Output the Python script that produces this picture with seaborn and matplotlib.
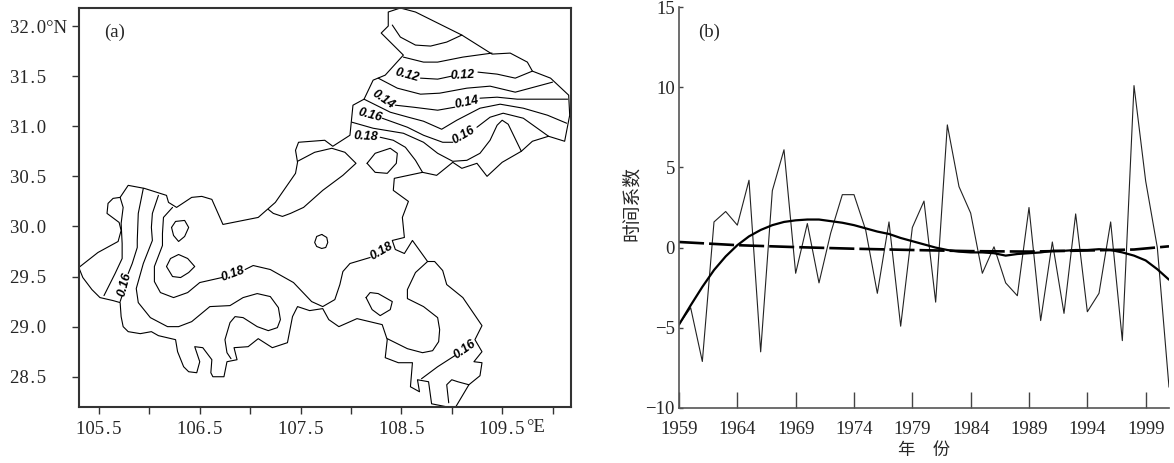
import matplotlib
matplotlib.use("Agg")
import matplotlib.pyplot as plt
import seaborn as sbn

sbn.set_style("white")
plt.rcParams["font.family"] = ["Liberation Serif", "Noto Sans CJK SC", "DejaVu Sans"]

# (a) province outline, lon/lat
outline_lon = [105.30,105.49,105.69,105.72,105.70,105.58,105.59,105.64,105.71,105.79,105.95,106.17,106.19,106.27,106.42,106.52,106.62,106.73,107.08,107.17,107.25,107.45,107.47,107.45,107.48,107.74,107.82,107.99,108.02,108.13,108.22,108.34,108.52,108.30,108.37,108.37,108.49,108.64,109.10,109.40,109.58,109.75,109.80,109.98,110.16,110.17,110.12,109.96,109.80,109.69,109.50,109.35,109.25,109.10,109.01,108.85,108.71,108.43,108.42,108.57,108.51,108.53,108.41,108.44,108.53,108.61,108.76,108.83,108.91,108.95,109.11,109.30,109.23,109.30,109.22,109.30,109.28,109.17,109.04,108.95,108.80,108.77,108.66,108.68,108.59,108.61,108.47,108.34,108.36,108.31,108.06,107.88,107.78,107.72,107.59,107.47,107.42,107.37,107.22,107.08,106.98,106.84,106.87,106.77,106.74,106.63,106.61,106.62,106.53,106.45,106.50,106.47,106.39,106.34,106.28,106.26,106.09,106.02,105.91,105.79,105.74,105.72,105.71,105.64,105.51,105.43,105.34,105.30]
outline_lat = [29.59,29.74,29.85,29.96,30.04,30.13,30.23,30.28,30.29,30.41,30.38,30.31,30.24,30.19,30.29,30.30,30.27,30.02,30.09,30.17,30.24,30.53,30.64,30.76,30.84,30.86,30.80,30.91,31.21,31.27,31.46,31.51,31.71,31.93,32.00,32.14,32.18,32.14,31.91,31.72,31.73,31.64,31.55,31.48,31.31,31.11,30.85,30.90,30.85,30.75,30.64,30.50,30.63,30.58,30.64,30.51,30.54,30.48,30.36,30.25,30.09,29.89,29.86,29.77,29.73,29.86,29.65,29.65,29.56,29.42,29.29,29.01,28.87,28.75,28.65,28.64,28.51,28.42,28.20,28.20,28.23,28.45,28.47,28.35,28.40,28.64,28.64,28.69,28.87,29.02,29.08,29.00,29.07,29.18,29.16,29.20,29.10,28.84,28.79,28.88,28.80,28.79,28.67,28.65,28.50,28.50,28.54,28.67,28.79,28.80,28.65,28.54,28.55,28.60,28.75,28.87,28.91,28.95,28.93,28.95,29.00,29.10,29.24,29.26,29.29,29.37,29.49,29.59]

# contours, one pair of lists each
c1_lon = [105.71,105.74,105.72,105.73,105.73,105.66,105.59,105.55]
c1_lat = [30.29,30.19,30.03,29.83,29.68,29.53,29.39,29.31]
c2a_lon = [105.94,105.89,105.88,105.88,105.83,105.79]
c2a_lat = [30.38,30.13,29.86,29.79,29.63,29.53]
c2b_lon = [105.73,105.71]
c2b_lat = [29.31,29.25]
c3_lon = [106.09,106.03,106.02,106.03,105.94,105.87,105.89,106.01,106.18,106.29,106.42,106.60,106.80,106.93,107.07,107.20,107.28,107.30,107.27,107.18,107.07,106.93,106.85,106.80,106.75,106.77,106.81]
c3_lat = [30.31,30.13,29.99,29.86,29.63,29.38,29.24,29.09,29.00,29.00,29.05,29.20,29.21,29.29,29.33,29.30,29.19,29.07,28.99,28.96,29.00,29.09,29.10,29.04,28.87,28.74,28.68]
c4a_lon = [106.23,106.14,106.13,106.13,106.05,106.05,106.11,106.24,106.38,106.50,106.72]
c4a_lat = [30.19,30.09,29.93,29.81,29.60,29.45,29.34,29.29,29.34,29.44,29.49]
c4b_lon = [106.95,107.03,107.20,107.43,107.61,107.72,107.84,107.89,107.92,107.99,108.19]
c4b_lat = [29.57,29.61,29.57,29.44,29.25,29.20,29.27,29.42,29.55,29.63,29.69]
c5_lon = [108.76,108.64,108.56,108.56,108.72,108.86,108.88,108.87,108.81,108.71,108.56,108.36]
c5_lat = [29.65,29.54,29.37,29.28,29.20,29.09,28.97,28.85,28.76,28.74,28.78,28.88]
c6_lon = [108.70,108.86,109.03]
c6_lat = [28.48,28.60,28.71]
c7_lon = [108.97,108.95,109.00,109.06,109.17]
c7_lat = [28.24,28.42,28.47,28.45,28.42]
l1_lon = [106.22,106.26,106.35,106.39,106.35,106.29,106.24,106.22]
l1_lat = [29.99,30.05,30.06,29.99,29.90,29.85,29.91,29.99]
l2_lon = [106.17,106.21,106.29,106.38,106.45,106.39,106.31,106.23,106.17]
l2_lat = [29.60,29.68,29.72,29.68,29.60,29.54,29.49,29.50,29.60]
l3_lon = [107.71,107.76,107.77,107.75,107.71,107.66,107.64,107.66,107.71]
l3_lat = [29.92,29.89,29.84,29.79,29.78,29.80,29.84,29.90,29.92]
l4_lon = [108.15,108.19,108.27,108.41,108.39,108.29,108.21,108.15]
l4_lat = [29.29,29.34,29.33,29.25,29.17,29.11,29.17,29.29]
l5_lon = [108.16,108.24,108.39,108.46,108.45,108.36,108.24,108.16]
l5_lat = [30.63,30.73,30.78,30.73,30.63,30.53,30.54,30.63]
nw_lon = [107.47,107.64,107.81,107.94,108.05,107.92,107.72,107.53,107.40,107.32,107.23,107.18]
nw_lat = [30.65,30.74,30.78,30.74,30.63,30.51,30.36,30.19,30.13,30.10,30.13,30.17]
n1_lon = [108.41,108.49,108.64,108.79,108.95,109.10]
n1_lat = [32.01,31.89,31.81,31.80,31.84,31.91]
n2_lon = [108.52,108.72,108.86,109.11,109.40]
n2_lat = [31.69,31.64,31.64,31.69,31.73]
n3a_lon = [108.69,108.86,109.00]
n3a_lat = [31.48,31.47,31.50]
n3b_lon = [109.26,109.45,109.63,109.80]
n3b_lat = [31.54,31.52,31.48,31.55]
n4_lon = [108.27,108.46,108.69,108.88,109.15,109.38,109.63,110.00]
n4_lat = [31.48,31.38,31.32,31.33,31.38,31.40,31.34,31.44]
n5a_lon = [108.44,108.62,108.86,109.03]
n5a_lat = [31.21,31.19,31.16,31.19]
n5b_lon = [109.28,109.45,109.65,110.15]
n5b_lat = [31.28,31.29,31.27,31.27]
n6_lon = [108.13,108.39,108.57,108.72,108.90,109.05,109.28,109.48,109.71,109.95,110.14]
n6_lat = [31.27,31.14,31.09,31.05,30.97,31.06,31.18,31.22,31.18,31.11,31.03]
n7a_lon = [108.31,108.56,108.72,108.91,109.01]
n7a_lat = [31.08,30.99,30.91,30.84,30.84]
n7b_lon = [109.25,109.38,109.51,109.71,109.96]
n7b_lat = [30.99,31.09,31.13,31.08,30.90]
n8_lon = [108.29,108.42,108.54,108.64,108.71]
n8_lat = [30.89,30.86,30.79,30.66,30.54]
n9_lon = [108.01,108.22,108.52,108.72,108.86,109.01,109.15,109.28,109.38,109.45,109.50,109.56,109.69]
n9_lat = [31.04,30.98,30.93,30.84,30.73,30.65,30.66,30.73,30.86,31.01,31.06,31.02,30.75]

label_txt = ["0.12","0.12","0.14","0.14","0.16","0.16","0.18","0.18","0.18","0.16","0.16"]
label_lon = [108.56,109.11,108.32,109.15,108.19,109.12,108.15,106.83,108.30,109.13,105.76]
label_lat = [31.51,31.51,31.27,31.24,31.11,30.91,30.90,29.53,29.75,28.77,29.42]
label_rot = [-15,3,-35,12,-15,30,-3,20,30,35,75]

lon_ticks = [105.5,106,106.5,107,107.5,108,108.5,109,109.5,110]
lon_labels = ["105\u200a.\u200a5","","106\u200a.\u200a5","","107\u200a.\u200a5","","108\u200a.\u200a5","","109\u200a.\u200a5",""]
lat_ticks = [32,31.5,31,30.5,30,29.5,29,28.5]
lat_labels = ["32\u200a.\u200a0\u00b0N","31\u200a.\u200a5","31\u200a.\u200a0","30\u200a.\u200a5","30\u200a.\u200a0","29\u200a.\u200a5","29\u200a.\u200a0","28\u200a.\u200a5"]

# (b) time coefficient
years = list(range(1959,2002))
coef = [-4.8,-3.75,-7.1,1.6,2.25,1.4,4.2,-6.5,3.55,6.1,-1.6,1.5,-2.2,0.9,3.3,3.3,1.1,-2.85,1.6,-4.9,1.25,2.9,-3.4,7.65,3.8,2.15,-1.6,0.05,-2.2,-3.0,2.5,-4.55,0.35,-4.1,2.1,-4.0,-2.85,1.6,-5.8,10.1,4.15,0.0,-8.7]
smooth = [-4.8,-3.6,-2.45,-1.4,-0.55,0.15,0.7,1.1,1.4,1.6,1.7,1.75,1.75,1.65,1.55,1.4,1.2,1.0,0.85,0.6,0.4,0.2,0.0,-0.15,-0.25,-0.3,-0.3,-0.35,-0.5,-0.4,-0.35,-0.3,-0.2,-0.2,-0.15,-0.15,-0.1,-0.15,-0.3,-0.5,-0.8,-1.35,-2.0]
trend_yr = [1959,1964,1969,1974,1979,1984,1989,1994,1998,2001]
trend = [0.35,0.15,0.03,-0.07,-0.15,-0.22,-0.25,-0.18,-0.12,0.08]
yr_ticks = [1959,1964,1969,1974,1979,1984,1989,1994,1999]
coef_ticks = [15,10,5,0,-5,-10]
coef_labels = ["15","10","5","0","\u22125","\u221210"]

W,H = 1174,463
fig = plt.figure(figsize=(W/100,H/100),dpi=100)
ax1 = fig.add_axes([79/W,(H-407)/H,492/W,399/H])
ax2 = fig.add_axes([679/W,(H-408)/H,490/W,401/H])

lines = [(outline_lon,outline_lat),(c1_lon,c1_lat),(c2a_lon,c2a_lat),(c2b_lon,c2b_lat),(c3_lon,c3_lat),
         (c4a_lon,c4a_lat),(c4b_lon,c4b_lat),(c5_lon,c5_lat),(c6_lon,c6_lat),(c7_lon,c7_lat),
         (l1_lon,l1_lat),(l2_lon,l2_lat),(l3_lon,l3_lat),(l4_lon,l4_lat),(l5_lon,l5_lat),(nw_lon,nw_lat),
         (n1_lon,n1_lat),(n2_lon,n2_lat),(n3a_lon,n3a_lat),(n3b_lon,n3b_lat),(n4_lon,n4_lat),(n5a_lon,n5a_lat),
         (n5b_lon,n5b_lat),(n6_lon,n6_lat),(n7a_lon,n7a_lat),(n7b_lon,n7b_lat),(n8_lon,n8_lat),(n9_lon,n9_lat)]
for lon,lat in lines:
    sbn.lineplot(x=lon,y=lat,sort=False,estimator=None,color="black",lw=0.8,ax=ax1)
for t,x,y,r in zip(label_txt,label_lon,label_lat,label_rot):
    ax1.text(x,y,t,rotation=r,rotation_mode="anchor",ha="center",va="center",fontsize=9,color="black",
             family="Liberation Sans",weight="bold",style="italic")

ax1.set_xlim(105.302,110.183)
ax1.set_ylim(28.198,32.18)
ax1.set_xticks(lon_ticks,lon_labels)
ax1.set_yticks(lat_ticks,lat_labels)
ax1.tick_params(axis="x",length=5,width=1,color="#333333",pad=5,labelsize=13.5,bottom=True)
ax1.tick_params(axis="y",length=5,width=1,color="#333333",pad=44.5,labelsize=13.5,left=True)
for lab in ax1.get_yticklabels():
    lab.set_ha("left")
for sp in ax1.spines.values():
    sp.set_color("#333333")
    sp.set_linewidth(1.5)
ax1.annotate("\u00b0E",xy=(109.5,0),xycoords=("data","axes fraction"),xytext=(17,-14.5),
             textcoords="offset points",fontsize=13.5,va="center",ha="left")
ax1.text(0.073,0.94,"(a)",transform=ax1.transAxes,fontsize=13.5,ha="center",va="center")

sbn.lineplot(x=years,y=coef,color="#222222",lw=0.8,ax=ax2)
sbn.lineplot(x=trend_yr,y=trend,color="black",lw=1.9,ax=ax2,linestyle=(0,(9.5,1.9)))
sbn.lineplot(x=years,y=smooth,color="black",lw=1.6,ax=ax2)
ax2.set_xlim(1959,2001)
ax2.set_ylim(-10,15)
ax2.set_xticks(yr_ticks)
ax2.set_yticks(coef_ticks,coef_labels)
ax2.tick_params(axis="x",direction="in",length=11.5,width=1,color="#444444",pad=9,labelsize=13.5,bottom=True)
ax2.tick_params(axis="y",direction="in",length=3,width=1,color="#444444",pad=3,labelsize=13.5,left=True)
ax2.spines["top"].set_visible(False)
ax2.spines["right"].set_visible(False)
for s in ["left","bottom"]:
    ax2.spines[s].set_color("#555555")
    ax2.spines[s].set_linewidth(1.2)
ax2.set_ylabel("时间系数",fontsize=13.5,family=["Noto Sans CJK SC"])
ax2.yaxis.set_label_coords(-0.0755,0.511)
ax2.set_xlabel("年\u3000份",fontsize=12.5,family=["Noto Sans CJK SC"],va="center")
ax2.xaxis.set_label_coords(0.5,-0.105)
ax2.text(0.061,0.938,"(b)",transform=ax2.transAxes,fontsize=13.5,ha="center",va="center")

fig.savefig("out.png",dpi=100)
